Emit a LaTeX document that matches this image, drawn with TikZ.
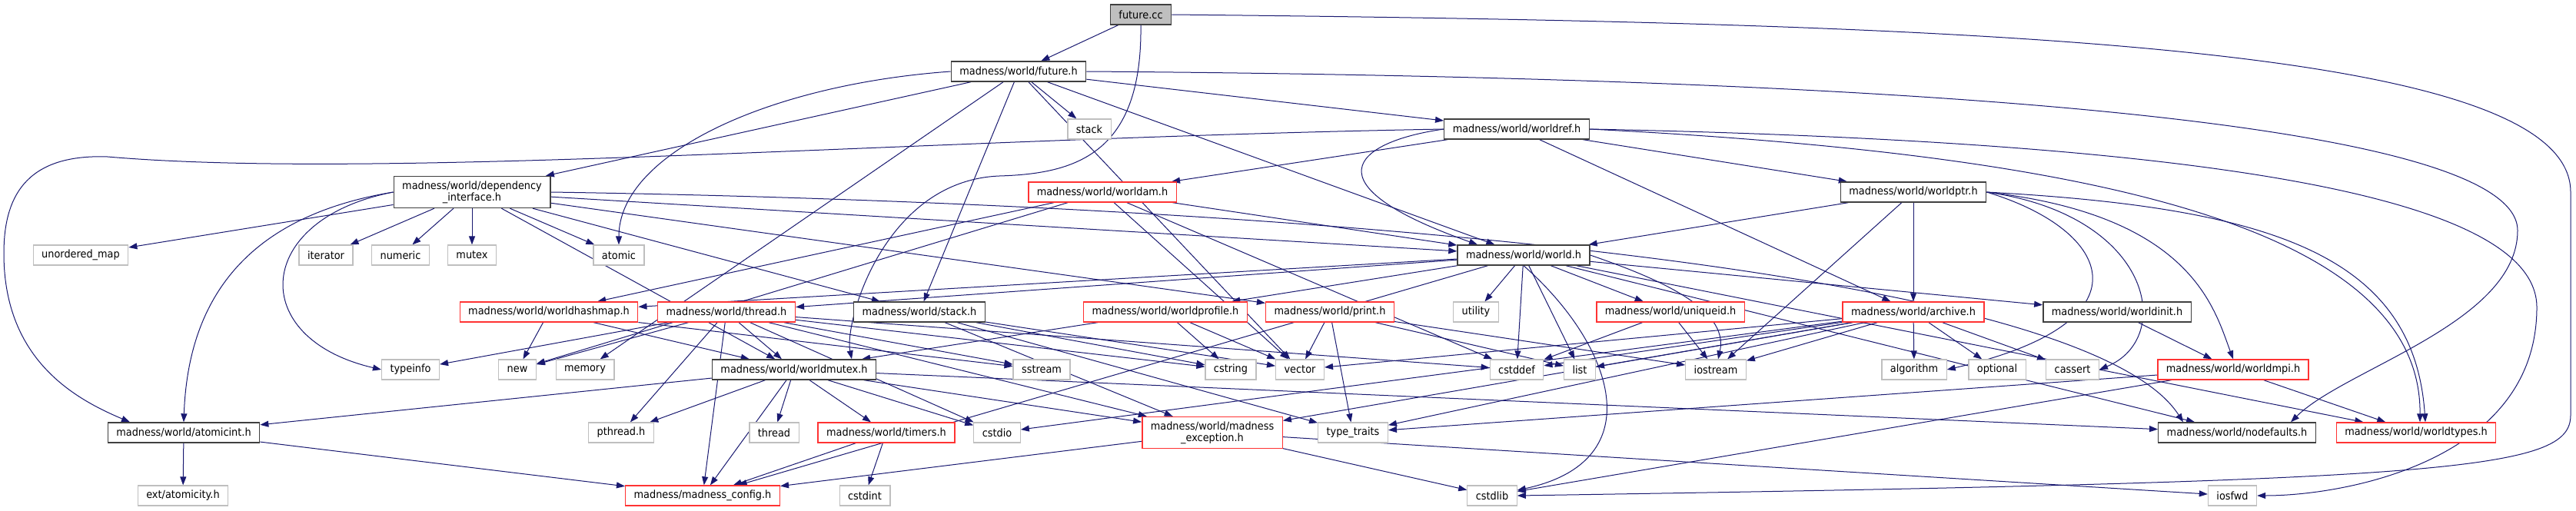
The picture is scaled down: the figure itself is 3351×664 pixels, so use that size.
\documentclass[tikz,border=0pt]{standalone}
\usepackage{fontspec}
\setmainfont{DejaVu Sans}[FakeStretch=0.92]
\usepackage{xcolor}
\usepackage{tikz}
\usetikzlibrary{arrows.meta}
\usetikzlibrary{backgrounds}

\definecolor{edgeblue}{HTML}{191970}
\definecolor{boxgray}{HTML}{BFBFBF}
\definecolor{boxdark}{HTML}{404040}
\definecolor{boxred}{HTML}{FF3333}

\begin{document}
\begin{tikzpicture}[
    x=1pt, y=-1pt,
    every node/.style={rectangle, draw, fill=white, minimum height=26pt, inner xsep=11pt, inner ysep=2pt, font=\fontsize{14}{15}\selectfont, align=center},
    hdr/.style={draw=boxdark, line width=1.4pt},
    trunc/.style={draw=boxred, line width=1.4pt},
    sys/.style={draw=boxgray, line width=1.2pt},
    twoline/.style={minimum height=41pt},
    dep/.style={draw=edgeblue, line width=1pt, -{Triangle[length=11pt, width=8pt]}},
  ]
  \useasboundingbox (0,0) rectangle (3351,664);

  % rank 0 to 2
  \node[hdr, fill=boxgray] (futurecc) at (1484, 19) {future.cc};
  \node[hdr] (futureh) at (1325, 93) {madness/world/future.h};
  \node[sys] (stack) at (1417, 168) {stack};
  \node[hdr] (worldref) at (1973, 168) {madness/world/worldref.h};

  % rank 3 and 4
  \node[hdr, twoline] (depint) at (614, 250) {madness/world/dependency\\\_interface.h};
  \node[trunc] (worldam) at (1434, 250) {madness/world/worldam.h};
  \node[hdr] (worldptr) at (2489, 250) {madness/world/worldptr.h};
  \node[sys] (unorderedmap) at (105, 332) {unordered\_map};
  \node[sys] (iterator) at (424, 332) {iterator};
  \node[sys] (numeric) at (521, 332) {numeric};
  \node[sys] (mutex) at (614, 332) {mutex};
  \node[sys] (atomic) at (805, 332) {atomic};
  \node[hdr] (worldh) at (1982, 332) {madness/world/world.h};

  % rank 5
  \node[trunc] (worldhashmap) at (714, 406) {madness/world/worldhashmap.h};
  \node[trunc] (threadh) at (945, 406) {madness/world/thread.h};
  \node[hdr] (stackh) at (1196, 406) {madness/world/stack.h};
  \node[trunc] (worldprofile) at (1516, 406) {madness/world/worldprofile.h};
  \node[trunc] (printh) at (1730, 406) {madness/world/print.h};
  \node[sys] (utility) at (1920, 406) {utility};
  \node[trunc] (uniqueid) at (2173, 406) {madness/world/uniqueid.h};
  \node[trunc] (archive) at (2489, 406) {madness/world/archive.h};
  \node[hdr] (worldinit) at (2754, 406) {madness/world/worldinit.h};

  % rank 6
  \node[sys] (typeinfo) at (534, 481) {typeinfo};
  \node[sys] (new) at (673, 481) {new};
  \node[sys] (memory) at (761, 481) {memory};
  \node[hdr] (worldmutex) at (1033, 481) {madness/world/worldmutex.h};
  \node[sys] (sstream) at (1355, 481) {sstream};
  \node[sys] (cstring) at (1601, 481) {cstring};
  \node[sys] (vector) at (1691, 481) {vector};
  \node[sys] (cstddef) at (1973, 481) {cstddef};
  \node[sys] (list) at (2055, 481) {list};
  \node[sys] (iostream) at (2232, 481) {iostream};
  \node[sys] (algorithm) at (2490, 481) {algorithm};
  \node[sys] (optional) at (2598, 481) {optional};
  \node[sys] (cassert) at (2696, 481) {cassert};
  \node[trunc] (worldmpi) at (2905, 481) {madness/world/worldmpi.h};

  % rank 7
  \node[hdr] (atomicint) at (239, 563) {madness/world/atomicint.h};
  \node[sys] (pthread) at (808, 563) {pthread.h};
  \node[sys] (thread) at (1007, 563) {thread};
  \node[trunc] (timers) at (1153, 563) {madness/world/timers.h};
  \node[sys] (cstdio) at (1297, 563) {cstdio};
  \node[trunc, twoline] (exception) at (1577, 563) {madness/world/madness\\\_exception.h};
  \node[sys] (typetraits) at (1760, 563) {type\_traits};
  \node[hdr] (nodefaults) at (2910, 563) {madness/world/nodefaults.h};
  \node[trunc] (worldtypes) at (3143, 563) {madness/world/worldtypes.h};

  % rank 8
  \node[sys] (atomicity) at (238, 645) {ext/atomicity.h};
  \node[trunc] (config) at (914, 645) {madness/madness\_config.h};
  \node[sys] (cstdint) at (1125, 645) {cstdint};
  \node[sys] (cstdlib) at (1941, 645) {cstdlib};
  \node[sys] (iosfwd) at (2904, 645) {iosfwd};

  \begin{scope}[on background layer]
  % future.cc
  \draw[dep] (futurecc) -- (futureh);
  \draw[dep] (futurecc.south) .. controls (1486,200) and (1400,226) .. (1300,229) .. controls (1150,235) and (1098,420) .. ([xshift=75pt]worldmutex.north);
  \draw[dep] (futurecc.east) .. controls (2600,30) and (3344,60) .. (3344,250) -- (3344,540) .. controls (3344,612) and (3200,626) .. (cstdlib.east);

  % future.h
  \draw[dep] (futureh) -- (depint);
  \draw[dep] (futureh.west) .. controls (1000,110) and (805,200) .. (atomic.north);
  \draw[dep] (futureh) -- (memory);
  \draw[dep] (futureh) -- (stackh);
  \draw[dep] (futureh) -- (vector);
  \draw[dep] (futureh) -- (worldh);
  \draw[dep] (futureh) -- (stack);
  \draw[dep] (futureh) -- (worldref);
  \draw[dep] (futureh.east) .. controls (2400,100) and (3275,150) .. (3275,300) .. controls (3275,420) and (3050,480) .. ([xshift=70pt]nodefaults.north);

  % worldref.h
  \draw[dep] (worldref) -- (worldam);
  \draw[dep] (worldref) -- (worldptr);
  \draw[dep] (worldref) -- (archive);
  \draw[dep] (worldref.west) .. controls (1760,185) and (1700,240) .. ([xshift=-60pt]worldh.north);
  \draw[dep] (worldref.west) .. controls (1200,180) and (500,235) .. (140,204) .. controls (30,200) and (5,260) .. (5,330) .. controls (5,470) and (100,520) .. ([xshift=-70pt]atomicint.north);
  \draw[dep] (worldref.east) .. controls (2700,200) and (3150,290) .. ([xshift=5pt]worldtypes.north);
  \draw[dep] (worldref.east) .. controls (2900,185) and (3300,260) .. (3300,400) .. controls (3300,600) and (3050,645) .. (iosfwd.east);

  % dependency_interface.h
  \draw[dep] (depint) -- (unorderedmap);
  \draw[dep] (depint) -- (iterator);
  \draw[dep] (depint) -- (numeric);
  \draw[dep] (depint) -- (mutex);
  \draw[dep] (depint) -- (atomic);
  \draw[dep] (depint.west) .. controls (330,285) and (320,440) .. (typeinfo.west);
  \draw[dep] (depint.west) .. controls (330,280) and (245,380) .. (atomicint.north);
  \draw[dep] (depint) -- (worldh);
  \draw[dep] (depint) -- (stackh);
  \draw[dep] (depint) -- (printh);
  \draw[dep] (depint) -- (worldmutex);
  \draw[dep] (depint.east) .. controls (1500,262) and (2700,330) .. ([xshift=-70pt]nodefaults.north);

  % worldam.h
  \draw[dep] (worldam) -- (worldhashmap);
  \draw[dep] (worldam) -- (new);
  \draw[dep] (worldam) -- (vector);
  \draw[dep] (worldam) -- (cstddef);
  \draw[dep] (worldam) -- (worldh);

  % worldptr.h
  \draw[dep] (worldptr) -- (worldh);
  \draw[dep] (worldptr) -- (iostream);
  \draw[dep] (worldptr) -- (archive);
  \draw[dep] (worldptr.east) .. controls (2950,270) and (3140,330) .. ([xshift=12pt]worldtypes.north);
  \draw[dep] (worldptr.east) .. controls (2750,300) and (2800,420) .. (algorithm.east);
  \draw[dep] (worldptr.east) .. controls (2800,280) and (2830,440) .. (cassert.east);
  \draw[dep] (worldptr.east) .. controls (2850,280) and (2880,400) .. (worldmpi.north);

  % world.h
  \draw[dep] (worldh) -- (worldhashmap);
  \draw[dep] (worldh) -- (threadh);
  \draw[dep] (worldh) -- (worldprofile);
  \draw[dep] (worldh) -- (config);
  \draw[dep] (worldh.south) .. controls (2100,450) and (2150,600) .. (cstdlib);
  \draw[dep] (worldh) -- (utility);
  \draw[dep] (worldh) -- (cstddef);
  \draw[dep] (worldh) -- (list);
  \draw[dep] (worldh) -- (uniqueid);
  \draw[dep] (worldh.east) .. controls (2150,360) and (2250,400) .. (iostream);
  \draw[dep] (worldh) -- (worldinit);
  \draw[dep] (worldh) -- (nodefaults);
  \draw[dep] (worldh) -- (worldtypes);

  % rank 5 headers
  \draw[dep] (worldhashmap) -- (new);
  \draw[dep] (worldhashmap) -- (worldmutex);
  \draw[dep] (worldhashmap) -- (sstream);
  \draw[dep] (threadh) -- (typeinfo);
  \draw[dep] (threadh) -- (new);
  \draw[dep] (threadh) -- (worldmutex);
  \draw[dep] (threadh) -- (pthread);
  \draw[dep] (threadh) -- (config);
  \draw[dep] (threadh) -- (sstream);
  \draw[dep] (threadh) -- (cstring);
  \draw[dep] (threadh) -- (cstddef);
  \draw[dep] (threadh) -- (cstdio);
  \draw[dep] (threadh) -- (exception);
  \draw[dep] (stackh) -- (exception);
  \draw[dep] (stackh) -- (cstring);
  \draw[dep] (stackh) -- (vector);
  \draw[dep] (stackh) -- (typetraits);
  \draw[dep] (worldprofile) -- (worldmutex);
  \draw[dep] (worldprofile) -- (vector);
  \draw[dep] (worldprofile) -- (cstring);
  \draw[dep] (printh) -- (vector);
  \draw[dep] (printh) -- (typetraits);
  \draw[dep] (printh) -- (list);
  \draw[dep] (printh) -- (iostream);
  \draw[dep] (uniqueid) -- (cstddef);
  \draw[dep] (uniqueid) -- (iostream);
  \draw[dep] (archive) -- (vector);
  \draw[dep] (archive) -- (cstddef);
  \draw[dep] (archive) -- (list);
  \draw[dep] (archive) -- (iostream);
  \draw[dep] (archive) -- (algorithm);
  \draw[dep] (archive) -- (optional);
  \draw[dep] (archive) -- (cassert);
  \draw[dep] (archive) -- (typetraits);
  \draw[dep] (archive) -- (exception);
  \draw[dep] (archive) -- (cstdio);
  \draw[dep] (worldinit) -- (worldmpi);

  % rank 6 and 7 headers
  \draw[dep] (worldmutex) -- (atomicint);
  \draw[dep] (worldmutex) -- (pthread);
  \draw[dep] (worldmutex) -- (thread);
  \draw[dep] (worldmutex) -- (timers);
  \draw[dep] (worldmutex) -- (cstdio);
  \draw[dep] (worldmutex) -- (exception);
  \draw[dep] (worldmutex) -- (config);
  \draw[dep] (worldmutex) -- (nodefaults);
  \draw[dep] (worldmpi) -- (worldtypes);
  \draw[dep] (worldmpi) -- (typetraits);
  \draw[dep] (worldmpi) -- (cstdlib);
  \draw[dep] (atomicint) -- (atomicity);
  \draw[dep] (atomicint) -- (config);
  \draw[dep] (timers) -- (config);
  \draw[dep] (timers) -- (cstdint);
  \draw[dep] (exception) -- (config);
  \draw[dep] (exception) -- (cstdlib);
  \draw[dep] (exception) -- (iosfwd);
  \end{scope}

\end{tikzpicture}
\end{document}
